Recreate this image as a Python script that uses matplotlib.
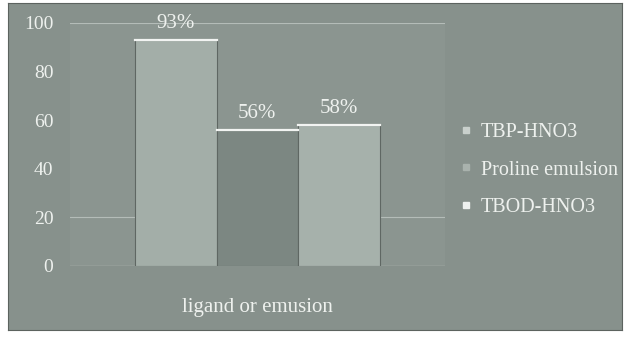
import matplotlib.pyplot as plt
import numpy as np

# --- Data ---
series = ["TBP-HNO3", "Proline emulsion", "TBOD-HNO3"]
values = [93, 56, 58]
value_labels = ["93%", "56%", "58%"]
category = "ligand or emusion"
yticks = [0, 20, 40, 60, 80, 100]
grid_levels = [20, 100]

# --- Style ---
bar_colors = ["#a3aea8", "#7c8782", "#a6b1ab"]
marker_colors = ["#c9d0cc", "#a9b2ad", "#eef1ef"]
bg_color = "#87918c"
plot_color = "#8b9590"
text_color = "#eef1ee"
plt.rcParams["font.family"] = ["Liberation Serif", "DejaVu Serif"]

fig = plt.figure(figsize=(6.3, 3.37), dpi=100)
fig.patch.set_facecolor("white")

# grey panel behind everything
bg = fig.add_axes([8 / 630, 7 / 337, 614 / 630, 327 / 337], zorder=-1)
bg.set_facecolor(bg_color)
bg.set_xticks([])
bg.set_yticks([])
for s in bg.spines.values():
    s.set_color("#5c635f")

ax = fig.add_axes([0.111, 0.211, 0.595, 0.721])
ax.set_facecolor(plot_color)
for s in ax.spines.values():
    s.set_visible(False)

# --- Bars ---
x = np.arange(len(series)) - 1
bars = ax.bar(x, values, width=1.0, color=bar_colors, edgecolor="#5f6763",
              linewidth=0.8, zorder=3)
for xi, v, lab in zip(x, values, value_labels):
    # bright top edge on each bar
    ax.plot([xi - 0.5, xi + 0.5], [v, v], color="#f2f4f2", lw=1.6, zorder=4)
    ax.text(xi, v + 3, lab, ha="center", va="bottom", fontsize=15,
            color=text_color, zorder=5)

for g in grid_levels:
    ax.axhline(g, color="#b4bcb8", lw=0.8, zorder=1)
ax.axhline(0, color="#b4bcb8", lw=1.0, zorder=2)

ax.set_xlim(-2.3, 2.3)
ax.set_ylim(0, 100)
ax.set_yticks(yticks)
ax.set_yticklabels([str(t) for t in yticks], fontsize=14, color=text_color)
ax.tick_params(axis="y", length=0, pad=12)
ax.set_xticks([])
ax.set_xlabel(category, fontsize=15, color=text_color, labelpad=23)

# --- Legend ---
handles = [plt.Line2D([], [], marker="s", linestyle="none", markersize=4,
                      markerfacecolor=c, markeredgecolor=c)
           for c in marker_colors]
leg = fig.legend(handles, series, loc="upper left",
                 bbox_to_anchor=(0.701, 0.69), frameon=False, fontsize=14.5,
                 handlelength=0.6, handletextpad=0.45, labelspacing=0.93)
for t in leg.get_texts():
    t.set_color(text_color)

fig.savefig("out.png", dpi=100, facecolor=fig.get_facecolor())
